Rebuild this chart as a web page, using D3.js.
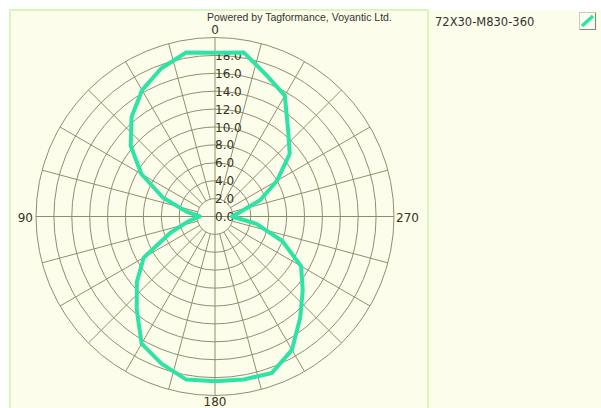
<!DOCTYPE html>
<html>
<head>
<meta charset="utf-8">
<script src="https://cdn.jsdelivr.net/npm/d3@7"></script>
<style>
  body { margin: 0; background: #fff; }
  svg { display: block; }
</style>
</head>
<body>
<div class="graph"></div>
<script>
var width = 601,
    height = 408;

// measured read range pattern, degrees (0 top, 90 left, 180 bottom, 270 right)
var angles = [0, 10, 20, 30, 40, 50, 60, 70, 80, 90, 100, 110, 120, 130, 140, 150, 160, 170,
              180, 190, 200, 210, 220, 230, 240, 250, 260, 270, 280, 290, 300, 310, 320, 330, 340, 350];
var values = [18.3, 18.6, 17.6, 16.3, 14.5, 12.3, 9.5, 6.2, 3.3, 1.7, 3.0, 5.3, 9.2, 11.4, 13.6, 16.4, 17.5, 18.5,
              18.4, 18.5, 18.6, 17.2, 14.8, 12.8, 11.1, 8.0, 4.7, 1.9, 2.8, 5.4, 8.0, 10.9, 12.7, 15.6, 16.8, 18.6];

var ringValues = [2, 4, 6, 8, 10, 12, 14, 16, 18, 20];
var ringLabels = [0, 2, 4, 6, 8, 10, 12, 14, 16, 18];
var spokeAngles = [0, 15, 30, 45, 60, 75, 90, 105, 120, 135, 150, 165,
                   180, 195, 210, 225, 240, 255, 270, 285, 300, 315, 330, 345];
var axisLabels = ["0", "90", "180", "270"];
var seriesName = "72X30-M830-360";
var credit = "Powered by Tagformance, Voyantic Ltd.";

var cx = 215, cy = 216.5;
var rad = Math.PI / 180;
var labelFont = "DejaVu Sans, sans-serif",
    labelColor = "#34341c";

var svg = d3.select(".graph").append("svg")
    .attr("width", width)
    .attr("height", height);

// panels
svg.append("rect")
    .attr("x", 10).attr("y", 10)
    .attr("width", width - 10).attr("height", height)
    .attr("fill", "#fcfdea");
svg.append("rect")
    .attr("x", 10).attr("y", 10)
    .attr("width", 418).attr("height", height)
    .attr("fill", "none")
    .attr("stroke", "#d9f6bd")
    .attr("stroke-width", 2);

var r = d3.scaleLinear().domain([0, 20]).range([0, 179]);

var g = svg.append("g")
    .attr("transform", "translate(" + cx + "," + cy + ")");

// rings
g.selectAll(".ring")
  .data(ringValues)
  .enter().append("circle")
    .attr("class", "ring")
    .attr("r", function(d) { return r(d); })
    .attr("fill", "none")
    .attr("stroke", "#928f70")
    .attr("stroke-width", 1);

// spokes, the four axes go through the centre
g.selectAll(".spoke")
  .data(spokeAngles)
  .enter().append("line")
    .attr("class", "spoke")
    .attr("x1", function(d) { var r0 = d % 90 == 0 ? 0 : r(2); return -r0 * Math.sin(d * rad); })
    .attr("y1", function(d) { var r0 = d % 90 == 0 ? 0 : r(2); return -r0 * Math.cos(d * rad); })
    .attr("x2", function(d) { return -r(20) * Math.sin(d * rad); })
    .attr("y2", function(d) { return -r(20) * Math.cos(d * rad); })
    .attr("stroke", function(d) { return d % 90 == 0 ? "#87906a" : "#928f70"; })
    .attr("stroke-width", 1);

// ring labels up the 0 axis
g.selectAll(".rlabel")
  .data(ringLabels)
  .enter().append("text")
    .attr("class", "rlabel")
    .attr("x", 0)
    .attr("y", function(d) { return -r(d) + 4.5; })
    .attr("font-family", labelFont)
    .attr("font-size", 12)
    .attr("fill", labelColor)
    .text(function(d) { return d3.format(".1f")(d); });

// angle labels
g.append("text").attr("x", 0).attr("y", -183).attr("text-anchor", "middle")
    .attr("font-family", labelFont).attr("font-size", 12).attr("fill", labelColor)
    .text(axisLabels[0]);
g.append("text").attr("x", -182).attr("y", 5).attr("text-anchor", "end")
    .attr("font-family", labelFont).attr("font-size", 12).attr("fill", labelColor)
    .text(axisLabels[1]);
g.append("text").attr("x", 0).attr("y", 189).attr("text-anchor", "middle")
    .attr("font-family", labelFont).attr("font-size", 12).attr("fill", labelColor)
    .text(axisLabels[2]);
g.append("text").attr("x", 181).attr("y", 5).attr("text-anchor", "start")
    .attr("font-family", labelFont).attr("font-size", 12).attr("fill", labelColor)
    .text(axisLabels[3]);

// the pattern
var pts = angles.map(function(a, i) { return { angle: a, value: values[i] }; });

var line = d3.lineRadial()
    .angle(function(d) { return -d.angle * rad; })
    .radius(function(d) { return r(d.value); })
    .curve(d3.curveLinearClosed);

g.append("path")
    .datum(pts)
    .attr("d", line)
    .attr("fill", "none")
    .attr("stroke", "#2ee3a6")
    .attr("stroke-width", 4)
    .attr("stroke-linejoin", "round");

// credit
svg.append("text")
    .attr("x", 207).attr("y", 21)
    .attr("font-family", "Liberation Sans, Arial, sans-serif")
    .attr("font-size", 10.5)
    .attr("fill", "#333")
    .text(credit);

// legend
svg.append("text")
    .attr("x", 435).attr("y", 26)
    .attr("font-family", labelFont)
    .attr("font-size", 11.5)
    .attr("fill", "#333")
    .text(seriesName);

var lg = svg.append("g").attr("transform", "translate(579,12)");
lg.append("rect").attr("x", 0.5).attr("y", 0.5).attr("width", 16).attr("height", 17)
    .attr("fill", "#fbfdf0").attr("stroke", "#c9c9c0");
lg.append("path").attr("d", "M16.5,1 V17.5 H1").attr("fill", "none").attr("stroke", "#888").attr("stroke-width", 1.2);
lg.append("line").attr("x1", 3).attr("y1", 14).attr("x2", 14).attr("y2", 4)
    .attr("stroke", "#2ee3a6").attr("stroke-width", 3.5);
</script>
</body>
</html>
